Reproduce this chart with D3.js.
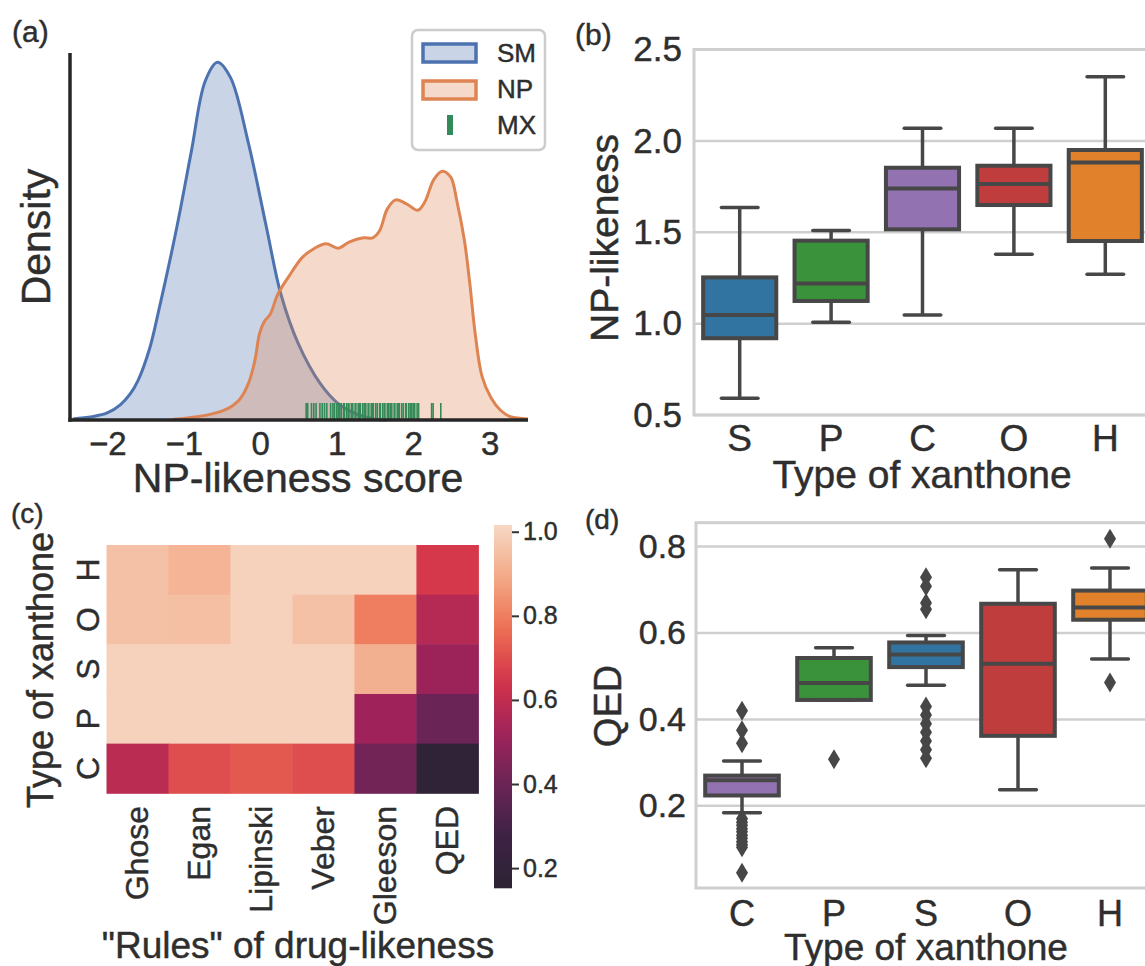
<!DOCTYPE html>
<meta charset="utf-8">
<style>
body { margin: 0; background: #fff; }
text { font-family: "Liberation Sans", Arial, sans-serif; fill: #2e2e2e; stroke: #2e2e2e; stroke-width: 0.45px; }
</style>
<body>
<script src="https://cdn.jsdelivr.net/npm/d3@7"></script>
<script>
// ---------------- DATA ----------------
// (a) density curves: [score, density]
var smCurve = [[-2.45,0.002],[-2.2,0.006],[-2.0,0.013],[-1.83,0.028],[-1.70,0.048],[-1.60,0.072],
  [-1.45,0.13],[-1.33,0.20],[-1.09,0.356],[-0.90,0.496],[-0.72,0.625],[-0.56,0.66],[-0.39,0.632],
  [-0.16,0.514],[0.08,0.356],[0.27,0.232],[0.50,0.14],[0.79,0.066],[1.02,0.03],[1.26,0.011],
  [1.49,0.002],[1.65,0.0]];
var npCurve = [[-1.15,0.001],[-0.70,0.009],[-0.44,0.02],[-0.27,0.038],[-0.15,0.069],[-0.07,0.11],
  [-0.01,0.159],[0.05,0.181],[0.13,0.195],[0.23,0.232],[0.37,0.264],[0.55,0.30],[0.69,0.315],
  [0.86,0.325],[1.02,0.317],[1.16,0.328],[1.35,0.336],[1.47,0.336],[1.56,0.349],[1.66,0.389],
  [1.77,0.406],[1.92,0.398],[2.06,0.387],[2.15,0.402],[2.27,0.444],[2.38,0.459],[2.49,0.448],
  [2.57,0.404],[2.67,0.33],[2.74,0.251],[2.81,0.159],[2.90,0.08],[3.02,0.04],[3.14,0.018],
  [3.27,0.006],[3.5,0.002]];
var mxScores = [0.60,0.62,0.67,0.70,0.73,0.78,0.81,0.84,0.87,0.92,0.95,0.97,1.0,1.02,1.04,1.06,
  1.09,1.1,1.13,1.15,1.16,1.19,1.21,1.24,1.25,1.28,1.3,1.31,1.34,1.36,1.38,1.41,1.42,1.45,1.47,
  1.48,1.51,1.53,1.56,1.57,1.6,1.62,1.63,1.66,1.68,1.7,1.72,1.75,1.76,1.79,1.81,1.82,1.85,1.87,
  1.9,1.91,1.94,1.96,1.98,2.0,2.02,2.05,2.07,2.24,2.26,2.36];
var aTicks = [-2, -1, 0, 1, 2, 3];
var legendNames = ["SM", "NP", "MX"];

// (b) NP-likeness boxes: [low whisker, Q1, median, Q3, high whisker]
var bCats = ["S", "P", "C", "O", "H"];
var bStats = [[0.591,0.920,1.047,1.253,1.636],[1.007,1.124,1.22,1.454,1.509],
  [1.047,1.516,1.74,1.853,2.069],[1.379,1.649,1.764,1.864,2.069],[1.27,1.452,1.881,1.95,2.351]];
var bTicks = [0.5, 1.0, 1.5, 2.0, 2.5];

// (c) heatmap
var cRules = ["Ghose", "Egan", "Lipinski", "Veber", "Gleeson", "QED"];
var cTypes = ["H", "O", "S", "P", "C"];
var cValues = [
  [0.955, 0.92, 1.0, 1.0, 1.0, 0.655],
  [0.955, 0.95, 1.0, 0.955, 0.80, 0.57],
  [1.0, 1.0, 1.0, 1.0, 0.91, 0.51],
  [1.0, 1.0, 1.0, 1.0, 0.52, 0.40],
  [0.585, 0.70, 0.72, 0.70, 0.42, 0.18]];
var cbTicks = [0.2, 0.4, 0.6, 0.8, 1.0];

// (d) QED boxes
var dCats = ["C", "P", "S", "O", "H"];
var dStats = [[0.184,0.224,0.259,0.27,0.304],[0.445,0.445,0.484,0.542,0.566],
  [0.479,0.521,0.55,0.578,0.594],[0.237,0.362,0.529,0.6675,0.746],[0.54,0.6305,0.659,0.698,0.75]];
var dOutliers = [[0.42,0.375,0.345,0.17,0.162,0.155,0.147,0.14,0.132,0.125,0.117,0.11,0.104,0.045],[0.308],
  [0.729,0.708,0.669,0.655,0.43,0.41,0.39,0.37,0.35,0.33,0.31],[],[0.818,0.4855]];
var dTicks = [0.2, 0.4, 0.6, 0.8];

// ---------------- STYLE ----------------
var typeColor = {S: "#3274a1", P: "#3a923a", C: "#9372b2", O: "#c03d3e", H: "#e1812c"};
var boxLine = "#474747";
var gridGrey = "#cfcfcf";
var cmapStops = ["#2c2334", "#3d2244", "#6a2456", "#a0235a", "#d4344a", "#ed6f53", "#f3aa87", "#f6d8c4"];

var svg = d3.select("body").append("svg")
  .attr("width", 1145).attr("height", 966);
svg.append("rect").attr("width", 1145).attr("height", 966).attr("fill", "#fff");

function fmtMinus(d) { return d < 0 ? "\u2212" + Math.abs(d) : String(d); }
function styleTicks(ax, size) {
  ax.select(".domain").remove();
  ax.selectAll("text").attr("font-size", size).attr("font-family", null).attr("fill", null);
}

// ================= PANEL (a) =================
var xA = d3.scaleLinear().domain([-2.5, 3.5]).range([69, 528]);
var yA = d3.scaleLinear().domain([0, 0.677]).range([420, 53]);
var pa = svg.append("g");

var area = d3.area().x(d => xA(d[0])).y0(yA(0)).y1(d => yA(d[1])).curve(d3.curveCatmullRom.alpha(0.5));
var line = d3.line().x(d => xA(d[0])).y(d => yA(d[1])).curve(d3.curveCatmullRom.alpha(0.5));

pa.append("path").datum(smCurve).attr("d", area).attr("fill", "#4c72b0").attr("fill-opacity", 0.3);
pa.append("path").datum(smCurve).attr("d", line).attr("fill", "none").attr("stroke", "#4c72b0").attr("stroke-width", 3);
pa.append("path").datum(npCurve).attr("d", area).attr("fill", "#dd8452").attr("fill-opacity", 0.3);
pa.append("path").datum(npCurve).attr("d", line).attr("fill", "none").attr("stroke", "#dd8452").attr("stroke-width", 3);

pa.selectAll("line.rug").data(mxScores).enter().append("line")
  .attr("x1", d => xA(d)).attr("x2", d => xA(d))
  .attr("y1", yA(0)).attr("y2", yA(0) - 17)
  .attr("stroke", "#338a58").attr("stroke-width", 1.6);

// spines
pa.append("line").attr("x1", 70).attr("x2", 70).attr("y1", 53).attr("y2", 421.7)
  .attr("stroke", "#262626").attr("stroke-width", 3.5);
pa.append("line").attr("x1", 68.3).attr("x2", 528).attr("y1", 420).attr("y2", 420)
  .attr("stroke", "#262626").attr("stroke-width", 3.5);

var axA = pa.append("g").attr("transform", "translate(0,420)")
  .call(d3.axisBottom(xA).tickValues(aTicks).tickSize(0).tickPadding(12).tickFormat(fmtMinus));
styleTicks(axA, 33);

pa.append("text").attr("x", 298).attr("y", 492).attr("text-anchor", "middle")
  .attr("font-size", 41).text("NP-likeness score");
pa.append("text").attr("transform", "translate(50,237) rotate(-90)").attr("text-anchor", "middle")
  .attr("font-size", 41).text("Density");

// legend
var lg = pa.append("g");
lg.append("rect").attr("x", 412).attr("y", 30).attr("width", 133).attr("height", 120).attr("rx", 6)
  .attr("fill", "#fff").attr("fill-opacity", 0.8).attr("stroke", "#cccccc").attr("stroke-width", 2.5);
lg.append("rect").attr("x", 423).attr("y", 44).attr("width", 53).attr("height", 18)
  .attr("fill", "#4c72b0").attr("fill-opacity", 0.3).attr("stroke", "#4c72b0").attr("stroke-width", 3.5);
lg.append("rect").attr("x", 423).attr("y", 81).attr("width", 53).attr("height", 18)
  .attr("fill", "#dd8452").attr("fill-opacity", 0.3).attr("stroke", "#dd8452").attr("stroke-width", 3.5);
lg.append("line").attr("x1", 450).attr("x2", 450).attr("y1", 115).attr("y2", 135)
  .attr("stroke", "#338a58").attr("stroke-width", 6);
lg.selectAll("text.lab").data(legendNames).enter().append("text")
  .attr("x", 497).attr("y", (d, i) => 62 + i * 36).attr("font-size", 26).text(d => d);

svg.append("text").attr("x", 12).attr("y", 42).attr("font-size", 30).text("(a)");

// ---------------- boxplot helper ----------------
function drawBoxes(g, cats, stats, outliers, x, y) {
  var bw = x.bandwidth();
  cats.forEach(function (c, i) {
    var s = stats[i], cx = x(c) + bw / 2, half = bw * 0.4, cap = bw * 0.2;
    var grp = g.append("g");
    grp.append("line").attr("x1", cx).attr("x2", cx).attr("y1", y(s[3])).attr("y2", y(s[4]))
      .attr("stroke", boxLine).attr("stroke-width", 3.5);
    grp.append("line").attr("x1", cx).attr("x2", cx).attr("y1", y(s[1])).attr("y2", y(s[0]))
      .attr("stroke", boxLine).attr("stroke-width", 3.5);
    [s[0], s[4]].forEach(function (v) {
      grp.append("line").attr("x1", cx - cap).attr("x2", cx + cap).attr("y1", y(v)).attr("y2", y(v))
        .attr("stroke", boxLine).attr("stroke-width", 3.5).attr("stroke-linecap", "round");
    });
    grp.append("rect").attr("x", cx - half).attr("width", 2 * half)
      .attr("y", y(s[3])).attr("height", Math.max(0.5, y(s[1]) - y(s[3])))
      .attr("fill", typeColor[c]).attr("stroke", boxLine).attr("stroke-width", 4);
    grp.append("line").attr("x1", cx - half).attr("x2", cx + half).attr("y1", y(s[2])).attr("y2", y(s[2]))
      .attr("stroke", boxLine).attr("stroke-width", 4);
    if (outliers) {
      grp.selectAll("path.fl").data(outliers[i]).enter().append("path")
        .attr("d", "M0,-10L6,0L0,10L-6,0Z")
        .attr("transform", v => "translate(" + cx + "," + y(v) + ")")
        .attr("fill", boxLine);
    }
  });
}

function gridFrame(g, x0, x1, y0, y1, ticks, y) {
  g.selectAll("line.grid").data(ticks).enter().append("line")
    .attr("x1", x0).attr("x2", x1).attr("y1", d => y(d)).attr("y2", d => y(d))
    .attr("stroke", gridGrey).attr("stroke-width", 2.5);
  g.append("rect").attr("x", x0).attr("y", y0).attr("width", x1 - x0).attr("height", y1 - y0)
    .attr("fill", "none").attr("stroke", gridGrey).attr("stroke-width", 3);
}

// ================= PANEL (b) =================
var xB = d3.scaleBand().domain(bCats).range([694, 1151]);
var yB = d3.scaleLinear().domain([0.5, 2.5]).range([415, 49.5]);
var pb = svg.append("g");
gridFrame(pb, 694, 1151, 49.5, 415, bTicks, yB);
drawBoxes(pb, bCats, bStats, null, xB, yB);

var axBy = pb.append("g").attr("transform", "translate(694,0)")
  .call(d3.axisLeft(yB).tickValues(bTicks).tickSize(0).tickPadding(12).tickFormat(d3.format(".1f")));
styleTicks(axBy, 35);
var axBx = pb.append("g").attr("transform", "translate(0,415)")
  .call(d3.axisBottom(xB).tickSize(0).tickPadding(10));
styleTicks(axBx, 37);

pb.append("text").attr("x", 922).attr("y", 488).attr("text-anchor", "middle")
  .attr("font-size", 39).text("Type of xanthone");
pb.append("text").attr("transform", "translate(618,238) rotate(-90)").attr("text-anchor", "middle")
  .attr("font-size", 39).text("NP-likeness");
svg.append("text").attr("x", 575).attr("y", 45).attr("font-size", 30).text("(b)");

// ================= PANEL (c) =================
var xC = d3.scaleBand().domain(cRules).range([106.5, 478.4]);
var yC = d3.scaleBand().domain(cTypes).range([545, 793.3]);
var colorC = d3.scaleSequential(d3.piecewise(d3.interpolateRgb, cmapStops)).domain([0.152, 1.016]);
var pc = svg.append("g");
cTypes.forEach(function (t, r) {
  cRules.forEach(function (rule, k) {
    pc.append("rect").attr("x", xC(rule)).attr("y", yC(t))
      .attr("width", xC.bandwidth() + 0.5).attr("height", yC.bandwidth() + 0.5)
      .attr("fill", colorC(cValues[r][k]));
  });
});

pc.selectAll("text.rt").data(cTypes).enter().append("text")
  .attr("transform", d => "translate(99," + (yC(d) + yC.bandwidth() / 2) + ") rotate(-90)")
  .attr("text-anchor", "middle").attr("font-size", 32).text(d => d);
pc.selectAll("text.ct").data(cRules).enter().append("text")
  .attr("transform", d => "translate(" + (xC(d) + xC.bandwidth() / 2 + 11) + ",806) rotate(-90)")
  .attr("text-anchor", "end").attr("font-size", 32).text(d => d);

// colorbar
var yCb = d3.scaleLinear().domain([0.152, 1.016]).range([888.3, 525]);
var grad = svg.append("defs").append("linearGradient").attr("id", "cbGrad")
  .attr("x1", 0).attr("y1", 1).attr("x2", 0).attr("y2", 0);
d3.range(0, 1.0001, 0.05).forEach(function (t) {
  grad.append("stop").attr("offset", t).attr("stop-color", colorC(0.152 + t * (1.016 - 0.152)));
});
pc.append("rect").attr("x", 494).attr("y", 525).attr("width", 18).attr("height", 363.3)
  .attr("fill", "url(#cbGrad)");
var axCb = pc.append("g").attr("transform", "translate(512,0)")
  .call(d3.axisRight(yCb).tickValues(cbTicks).tickSize(7).tickPadding(4).tickFormat(d3.format(".1f")));
axCb.selectAll("line").attr("stroke", "#333").attr("stroke-width", 2);
styleTicks(axCb, 25);

pc.append("text").attr("x", 298).attr("y", 958).attr("text-anchor", "middle")
  .attr("font-size", 37).text("\"Rules\" of drug-likeness");
pc.append("text").attr("transform", "translate(53,670) rotate(-90)").attr("text-anchor", "middle")
  .attr("font-size", 36).text("Type of xanthone");
svg.append("text").attr("x", 11).attr("y", 523).attr("font-size", 28).text("(c)");

// ================= PANEL (d) =================
var xD = d3.scaleBand().domain(dCats).range([696, 1156]);
var yD = d3.scaleLinear().domain([0.01, 0.855]).range([888, 522.7]);
var pd = svg.append("g");
gridFrame(pd, 696, 1156, 522.7, 888, dTicks, yD);
drawBoxes(pd, dCats, dStats, dOutliers, xD, yD);

var axDy = pd.append("g").attr("transform", "translate(696,0)")
  .call(d3.axisLeft(yD).tickValues(dTicks).tickSize(0).tickPadding(10).tickFormat(d3.format(".1f")));
styleTicks(axDy, 34);
var axDx = pd.append("g").attr("transform", "translate(0,888)")
  .call(d3.axisBottom(xD).tickSize(0).tickPadding(12));
styleTicks(axDx, 36);

pd.append("text").attr("x", 926).attr("y", 960).attr("text-anchor", "middle")
  .attr("font-size", 37).text("Type of xanthone");
pd.append("text").attr("transform", "translate(621,706) rotate(-90)").attr("text-anchor", "middle")
  .attr("font-size", 38).text("QED");
svg.append("text").attr("x", 585).attr("y", 529).attr("font-size", 28).text("(d)");
</script>
